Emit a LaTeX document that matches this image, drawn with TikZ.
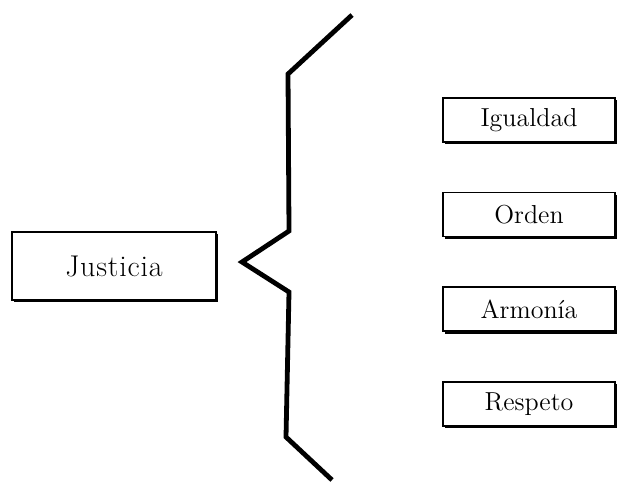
\documentclass[tikz,border=0pt]{standalone}
\usepackage{tikz}
\usetikzlibrary{positioning, shadows}
\tikzset{
  jbox/.style={
    rectangle, draw=black, line width=0.8pt, fill=white, align=center,
    inner sep=0pt, font=\fontsize{13}{15}\selectfont,
    drop shadow={shadow xshift=1.2pt, shadow yshift=-1.2pt, fill=black, opacity=1}},
  jmain/.style={jbox, minimum width=102pt, minimum height=34pt,
    font=\fontsize{15}{17}\selectfont},
  jitem/.style={jbox, minimum width=86pt, minimum height=22pt},
  jbrace/.style={line width=2.4pt, draw=black},
}
\begin{document}
\begin{tikzpicture}[x=0.5pt, y=-0.5pt]
  \useasboundingbox (0,0) rectangle (620,484);
  %% Left: main concept
  \node[jmain] (just) at (114,266) {J\kern0.4pt u\kern0.4pt s\kern0.4pt t\kern0.4pt i\kern0.4pt c\kern0.4pt i\kern0.4pt a};
  %% Right column: values
  \node[jitem] (igual) at (529,120) {Igualdad};
  \node[jitem, below=24.5pt of igual] (orden) {Orden};
  \node[jitem, below=24.5pt of orden] (armon) {Armonía};
  \node[jitem, below=24.5pt of armon] (resp) {Respeto};
  %% Brace
  \draw[jbrace] (352,15) -- (288,74) -- (289,231) -- (242,262)
    -- (289,292) -- (286,437) -- (332,480);
\end{tikzpicture}
\end{document}
